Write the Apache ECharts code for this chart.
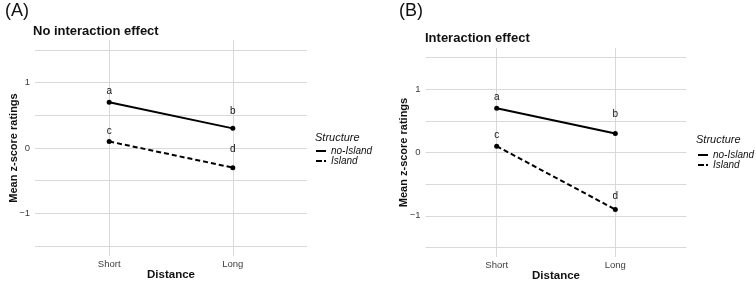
<!DOCTYPE html>
<html><head><meta charset="utf-8">
<script src="https://cdn.jsdelivr.net/npm/echarts@6/dist/echarts.min.js"></script>
<style>html,body{margin:0;padding:0;background:#fff}#c{width:756px;height:284px}</style>
</head><body><div id="c"></div>
<script>
// ---- data ----
const categories = ['Short', 'Long'];
const yLabelValues = [-1, 0, 1];
const yGridValues = [-1.5, -1, -0.5, 0, 0.5, 1, 1.5];
const seriesNames = ['no-Island', 'Island'];
const noIslandA = [0.7, 0.3];
const islandA = [0.1, -0.3];
const noIslandB = [0.7, 0.3];
const islandB = [0.1, -0.9];
const lettersNoIsland = ['a', 'b'];
const lettersIsland = ['c', 'd'];
const panelTags = ['(A)', '(B)'];
const panelTitles = ['No interaction effect', 'Interaction effect'];

// ---- styling ----
const FONT = 'Liberation Sans, Arial, Helvetica, sans-serif';
const GRIDC = '#d9d9d9';
const TICKC = '#3d3d3d';
const xPos = categories.map((c, i) => i + 1);
const labelGapA = { noIsland: [3.5, 10], island: [3, 10.5] };
const labelGapB = { noIsland: [3.5, 11.5], island: [3.5, 5.5] };

function makeData(vals, letters, gaps) {
  return vals.map((v, i) => ({
    value: [xPos[i], v],
    label: { distance: gaps[i], formatter: letters[i] }
  }));
}

function xAxis(gi) {
  return {
    type: 'value', gridIndex: gi, min: 0.4, max: 2.6,
    axisLine: { show: false },
    axisTick: { show: false, customValues: xPos },
    axisLabel: { customValues: xPos, formatter: v => categories[Math.round(v) - 1], fontSize: 9.5, color: TICKC, fontFamily: FONT, margin: 3 },
    splitLine: { show: true, lineStyle: { color: GRIDC, width: 1 } },
    name: 'Distance', nameLocation: 'middle', nameGap: 13, nameMoveOverlap: false,
    nameTextStyle: { fontSize: 11.5, fontWeight: 'bold', color: '#111', fontFamily: FONT, verticalAlign: 'top' }
  };
}
function yAxis(gi) {
  return {
    type: 'value', gridIndex: gi, min: -1.65, max: 1.65,
    axisLine: { show: false },
    axisTick: { show: false, customValues: yGridValues },
    axisLabel: { customValues: yLabelValues, formatter: v => v < 0 ? '\u2212' + Math.abs(v) : String(v), fontSize: 9.5, color: TICKC, fontFamily: FONT, margin: 5 },
    splitLine: { show: true, lineStyle: { color: GRIDC, width: 1 } },
    name: 'Mean z-score ratings', nameLocation: 'middle', nameGap: 16, nameMoveOverlap: false,
    nameTextStyle: { fontSize: 11, fontWeight: 'bold', color: '#111', fontFamily: FONT }
  };
}
function lineSeries(name, gi, vals, letters, gaps, dashed) {
  return {
    name, type: 'line', xAxisIndex: gi, yAxisIndex: gi,
    data: makeData(vals, letters, gaps),
    symbol: 'circle', symbolSize: 5,
    itemStyle: { color: '#000' },
    lineStyle: { color: '#000', width: 2, type: dashed ? [5, 3] : 'solid' },
    label: { show: true, position: 'top', fontSize: 10, color: '#111', fontFamily: FONT },
    emphasis: { disabled: true },
    z: 3
  };
}
function legend(left, top) {
  return {
    orient: 'vertical', left, top, padding: 0, selectedMode: false,
    itemWidth: 10, itemHeight: 2, itemGap: 0, itemTextGap: 5,
    textStyle: { fontSize: 10, fontStyle: 'italic', color: '#111', fontFamily: FONT, lineHeight: 8.5 },
    data: [
      { name: seriesNames[0], icon: 'path://M0 0H10V2H0Z' },
      { name: seriesNames[1], icon: 'path://M0 0H6V2H0Z M8 0H10V2H8Z' }
    ]
  };
}
function title(text, left, top, size, weight, style) {
  return { text, left, top, padding: 0, textStyle: { fontSize: size, fontWeight: weight, fontStyle: style || 'normal', color: '#111', fontFamily: FONT } };
}

const chart = echarts.init(document.getElementById('c'), null, { renderer: 'canvas' });
chart.setOption({
  animation: false,
  backgroundColor: '#fff',
  textStyle: { fontFamily: FONT },
  title: [
    title(panelTags[0], 5, 2.5, 18, 'normal'),
    title(panelTitles[0], 33, 25, 13, 'bold'),
    title(panelTags[1], 399, 2.5, 18, 'normal'),
    title(panelTitles[1], 425, 32, 13, 'bold'),
    title('Structure', 315, 132, 11, 'normal', 'italic'),
    title('Structure', 696, 134.5, 11, 'normal', 'italic')
  ],
  legend: [legend(316, 146), legend(698, 150)],
  grid: [
    { left: 35, top: 40, width: 272, height: 216, outerBoundsMode: 'none', containLabel: false },
    { left: 425.5, top: 48, width: 261, height: 209, outerBoundsMode: 'none', containLabel: false }
  ],
  xAxis: [xAxis(0), xAxis(1)],
  yAxis: [yAxis(0), yAxis(1)],
  series: [
    lineSeries(seriesNames[0], 0, noIslandA, lettersNoIsland, labelGapA.noIsland, false),
    lineSeries(seriesNames[1], 0, islandA, lettersIsland, labelGapA.island, true),
    lineSeries(seriesNames[0], 1, noIslandB, lettersNoIsland, labelGapB.noIsland, false),
    lineSeries(seriesNames[1], 1, islandB, lettersIsland, labelGapB.island, true)
  ]
});
</script></body></html>
